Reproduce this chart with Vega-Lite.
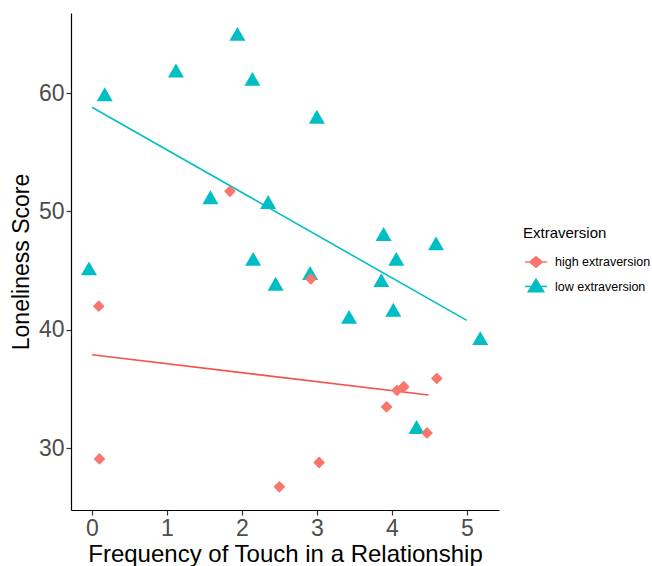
{
  "$schema": "https://vega.github.io/schema/vega-lite/v6.json",
  "width": 428,
  "height": 497,
  "autosize": {"type": "none"},
  "padding": {"left": 71, "top": 13, "right": 153, "bottom": 56},
  "background": "white",
  "config": {
    "view": {"stroke": null},
    "font": "Liberation Sans",
    "axis": {
      "grid": false,
      "domainColor": "#000000",
      "domainWidth": 1.2,
      "tickColor": "#333333",
      "tickWidth": 1.2,
      "tickSize": 5,
      "labelFont": "Liberation Sans",
      "labelFontSize": 23,
      "labelColor": "#4D4D4D",
      "labelPadding": 2,
      "titleFont": "Liberation Sans",
      "titleFontSize": 23,
      "titleFontWeight": "normal",
      "titleColor": "#000000"
    },
    "legend": {
      "orient": "none",
      "legendX": 452,
      "legendY": 213,
      "titleFontSize": 15,
      "titleFontWeight": "normal",
      "titleColor": "#000000",
      "titleFont": "Liberation Sans",
      "titlePadding": 13,
      "labelFontSize": 12.5,
      "labelFont": "Liberation Sans",
      "labelColor": "#000000",
      "labelOffset": 11,
      "rowPadding": 4.5,
      "symbolSize": 200,
      "symbolOffset": 5,
      "symbolStrokeWidth": 1.5
    }
  },
  "datasets": {
    "pts": [
      {"touch": 0.17, "score": 59.9, "group": "low extraversion"},
      {"touch": 1.12, "score": 61.9, "group": "low extraversion"},
      {"touch": 1.94, "score": 65.0, "group": "low extraversion"},
      {"touch": 2.14, "score": 61.2, "group": "low extraversion"},
      {"touch": 3.0, "score": 58.0, "group": "low extraversion"},
      {"touch": 1.58, "score": 51.2, "group": "low extraversion"},
      {"touch": 2.35, "score": 50.8, "group": "low extraversion"},
      {"touch": 2.15, "score": 46.0, "group": "low extraversion"},
      {"touch": -0.04, "score": 45.2, "group": "low extraversion"},
      {"touch": 2.91, "score": 44.8, "group": "low extraversion"},
      {"touch": 2.45, "score": 43.9, "group": "low extraversion"},
      {"touch": 3.89, "score": 48.1, "group": "low extraversion"},
      {"touch": 4.59, "score": 47.3, "group": "low extraversion"},
      {"touch": 4.06, "score": 46.0, "group": "low extraversion"},
      {"touch": 3.86, "score": 44.2, "group": "low extraversion"},
      {"touch": 3.43, "score": 41.1, "group": "low extraversion"},
      {"touch": 4.02, "score": 41.7, "group": "low extraversion"},
      {"touch": 5.18, "score": 39.3, "group": "low extraversion"},
      {"touch": 4.33, "score": 31.8, "group": "low extraversion"},
      {"touch": 1.84, "score": 51.7, "group": "high extraversion"},
      {"touch": 2.92, "score": 44.3, "group": "high extraversion"},
      {"touch": 0.09, "score": 42.0, "group": "high extraversion"},
      {"touch": 0.1, "score": 29.1, "group": "high extraversion"},
      {"touch": 2.5, "score": 26.75, "group": "high extraversion"},
      {"touch": 3.03, "score": 28.8, "group": "high extraversion"},
      {"touch": 4.6, "score": 35.9, "group": "high extraversion"},
      {"touch": 4.07, "score": 34.9, "group": "high extraversion"},
      {"touch": 4.16, "score": 35.2, "group": "high extraversion"},
      {"touch": 3.93, "score": 33.5, "group": "high extraversion"},
      {"touch": 4.47, "score": 31.3, "group": "high extraversion"}
    ],
    "fit": [
      {"touch": 0.0, "score": 58.8, "group": "low extraversion"},
      {"touch": 5.0, "score": 40.8, "group": "low extraversion"},
      {"touch": 0.0, "score": 37.9, "group": "high extraversion"},
      {"touch": 4.49, "score": 34.5, "group": "high extraversion"}
    ]
  },
  "encoding": {
    "x": {
      "field": "touch",
      "type": "quantitative",
      "title": "Frequency of Touch in a Relationship",
      "scale": {"domain": [-0.28, 5.43], "nice": false, "zero": false},
      "axis": {"values": [0, 1, 2, 3, 4, 5], "format": "d", "titlePadding": 2, "titleFontSize": 24}
    },
    "y": {
      "field": "score",
      "type": "quantitative",
      "title": "Loneliness Score",
      "scale": {"domain": [24.79, 66.76], "nice": false, "zero": false},
      "axis": {"values": [30, 40, 50, 60], "titlePadding": 5}
    }
  },
  "layer": [
    {
      "data": {"name": "fit"},
      "transform": [{"filter": "datum.group === 'low extraversion'"}],
      "mark": {"type": "line", "strokeWidth": 1.6, "color": "#00BFC4"}
    },
    {
      "data": {"name": "fit"},
      "transform": [{"filter": "datum.group === 'high extraversion'"}],
      "mark": {"type": "line", "strokeWidth": 1.6, "color": "#F5524A"}
    },
    {
      "data": {"name": "pts"},
      "transform": [{"filter": "datum.group === 'low extraversion'"}],
      "mark": {"type": "point", "filled": true, "opacity": 1, "size": 256, "shape": "triangle-up", "color": "#00BFC4"}
    },
    {
      "data": {"name": "pts"},
      "transform": [{"filter": "datum.group === 'high extraversion'"}],
      "mark": {"type": "point", "filled": true, "opacity": 1, "size": 95, "shape": "diamond", "color": "#F8766D", "stroke": "#F8766D", "strokeWidth": 1.5, "strokeJoin": "round"}
    },
    {
      "data": {"name": "pts"},
      "transform": [{"filter": "false"}],
      "mark": {"type": "point", "filled": true, "opacity": 1, "strokeWidth": 1.5, "strokeJoin": "round"},
      "encoding": {
        "fill": {
          "field": "group",
          "type": "nominal",
          "title": "Extraversion",
          "scale": {"domain": ["high extraversion", "low extraversion"], "range": ["#F8766D", "#00BFC4"]}
        },
        "stroke": {
          "field": "group",
          "type": "nominal",
          "title": "Extraversion",
          "scale": {"domain": ["high extraversion", "low extraversion"], "range": ["#F8766D", "#00BFC4"]}
        },
        "shape": {
          "field": "group",
          "type": "nominal",
          "title": "Extraversion",
          "scale": {
            "domain": ["high extraversion", "low extraversion"],
            "range": ["M-1.55,0H1.55M-0.9,0L0,-0.75L0.9,0L0,0.75Z", "M-1.55,0H1.55M-1.1,0.75L0,-1.05L1.1,0.75Z"]
          }
        }
      }
    }
  ]
}
